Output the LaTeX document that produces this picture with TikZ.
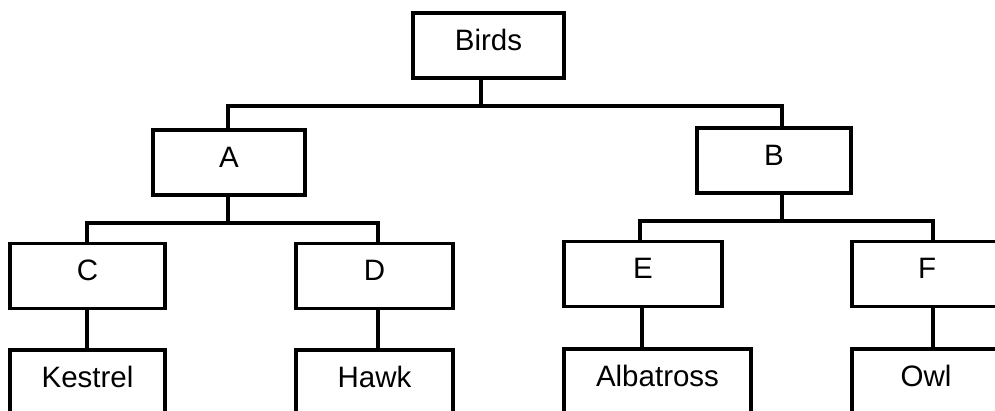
\documentclass[tikz,border=0pt]{standalone}
\usepackage{fontspec}
\setmainfont{Liberation Sans}
\usetikzlibrary{calc}
\begin{document}
\begin{tikzpicture}[x=1pt,y=-1pt,
  box/.style={draw=black,line width=3.2pt,rectangle,inner sep=0pt,
    minimum height=65pt,text height=21pt,text depth=11pt,
    font=\fontsize{29.5}{34}\selectfont},
  link/.style={draw=black,line width=3.2pt,line cap=rect}]
\useasboundingbox (0,0) rectangle (995,411);
\clip (0,0) rectangle (995,411);
\fill[white] (0,0) rectangle (995,411);

% top level
\node[box,minimum width=151pt] (birds) at (488.5,45.5) {Birds};

% second level
\node[box,minimum width=152pt] (a) at (229,162.5) {A};
\node[box,minimum width=154pt] (b) at (774,160.5) {B};

% third level
\node[box,minimum width=155pt] (c) at (87.5,276) {C};
\node[box,minimum width=157pt] (d) at (374.5,276) {D};
\node[box,minimum width=158pt] (e) at (643,274) {E};
\node[box,minimum width=150pt] (f) at (927,274) {F};

% leaves
\node[box,minimum width=155pt] (kestrel) at (87.5,382.5) {Kestrel};
\node[box,minimum width=157pt] (hawk) at (374.5,382.5) {Hawk};
\node[box,minimum width=187pt] (albatross) at (657.5,381.5) {Albatross};
\node[box,minimum width=148pt] (owl) at (926,381.5) {Owl};

% junction points of the branch bars
\coordinate (j0) at (481,106);
\coordinate (j1) at (228,223);
\coordinate (j2) at (782,221);

% Birds -> A, B
\draw[link] (birds.south -| j0) -- (j0);
\draw[link] (a.north -| j1) |- (j0) -| (b.north -| j2);

% A -> C, D
\draw[link] (a.south -| j1) -- (j1);
\draw[link] (c.north -| 87,0) |- (j1) -| (d.north -| 378,0);

% B -> E, F
\draw[link] (b.south -| j2) -- (j2);
\draw[link] (e.north -| 640,0) |- (j2) -| (f.north -| 933,0);

% third level -> leaves
\draw[link] (c.south -| 87,0) -- (kestrel.north -| 87,0);
\draw[link] (d.south -| 378,0) -- (hawk.north -| 378,0);
\draw[link] (e.south -| 642,0) -- (albatross.north -| 642,0);
\draw[link] (f.south -| 933,0) -- (owl.north -| 933,0);
\end{tikzpicture}
\end{document}
